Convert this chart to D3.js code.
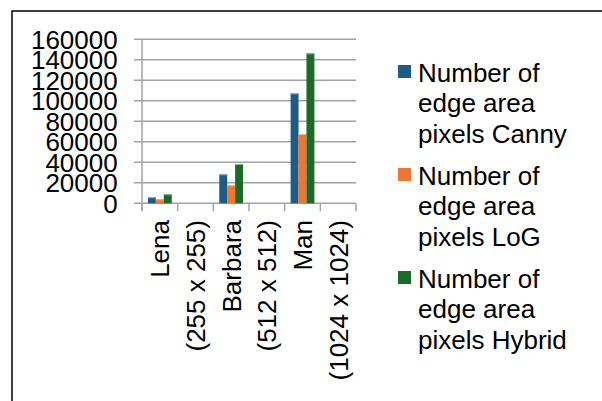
<!DOCTYPE html>
<html>
<head>
<meta charset="utf-8">
<script src="https://cdn.jsdelivr.net/npm/d3@7"></script>
<style>
  html, body { margin: 0; padding: 0; background: #fff; }
  svg { display: block; }
  text { font-family: "Liberation Sans", Arial, sans-serif; fill: #000; }
</style>
</head>
<body>
<svg id="chart" width="602" height="401"></svg>
<script>
// Category slots on the x axis (image name and its size occupy separate slots)
const categories = ["Lena", "(255 x 255)", "Barbara", "(512 x 512)", "Man", "(1024 x 1024)"];
const seriesNames = [
  "Number of edge area pixels Canny",
  "Number of edge area pixels LoG",
  "Number of edge area pixels Hybrid"
];
const seriesLines = [
  ["Number of", "edge area", "pixels Canny"],
  ["Number of", "edge area", "pixels LoG"],
  ["Number of", "edge area", "pixels Hybrid"]
];
// Edge-area pixel counts per slot (null where no value)
const cannyValues  = [5900, null, 28300, null, 107300, null];
const logValues    = [3900, null, 17600, null, 67600, null];
const hybridValues = [8800, null, 38300, null, 146300, null];
const yTicks = [0, 20000, 40000, 60000, 80000, 100000, 120000, 140000, 160000];
const colors = ["#1d5c86", "#ec7632", "#1d6a27"];
const topEdge = ["#8db3cf", "#f6b48a", "#86b58c"];

const seriesValues = [cannyValues, logValues, hybridValues];

const svg = d3.select("#chart");

// Outer chart border
svg.append("rect")
  .attr("x", 12).attr("y", 11)
  .attr("width", 640).attr("height", 440)
  .attr("fill", "none").attr("stroke", "#000").attr("stroke-width", 1.5);

const plot = { left: 142, right: 356, top: 39.3, bottom: 203.3 };

const y = d3.scaleLinear().domain([0, 160000]).range([plot.bottom, plot.top]);
const x0 = d3.scaleBand().domain(categories).range([plot.left, plot.right]).padding(0);
const barW = x0.bandwidth() / 4.5;
const x1 = d3.scaleBand().domain(d3.range(seriesNames.length))
  .range([0.75 * barW, 3.75 * barW]).padding(0);

const gridColor = "#a3a3a3";

// Horizontal gridlines with short outward ticks
svg.append("g").selectAll("line").data(yTicks).join("line")
  .attr("x1", plot.left - 8).attr("x2", plot.right)
  .attr("y1", d => y(d)).attr("y2", d => y(d))
  .attr("stroke", gridColor).attr("stroke-width", 1.5);

// Y axis
const yAxis = d3.axisLeft(y).tickValues(yTicks).tickSize(0).tickPadding(0)
  .tickFormat(d3.format("d"));
const gy = svg.append("g").attr("transform", `translate(${plot.left - 24.3},0)`).call(yAxis);
gy.select(".domain").remove();
gy.selectAll("text")
  .attr("font-size", 26)
  .attr("font-family", "Liberation Sans, Arial, sans-serif")
  .attr("fill", "#000")
  .attr("dy", "0.35em");

svg.append("line")
  .attr("x1", plot.left).attr("x2", plot.left)
  .attr("y1", plot.top).attr("y2", plot.bottom + 8)
  .attr("stroke", gridColor).attr("stroke-width", 1.5);

// X axis with category boundary ticks
const bounds = categories.map(c => x0(c)).concat([plot.right]);
svg.append("g").selectAll("line").data(bounds).join("line")
  .attr("x1", d => d).attr("x2", d => d)
  .attr("y1", plot.bottom).attr("y2", plot.bottom + 8)
  .attr("stroke", gridColor).attr("stroke-width", 1.5);

// Bars
const bars = svg.append("g");
seriesValues.forEach((vals, s) => {
  const data = categories.map((c, i) => ({ c, v: vals[i] })).filter(d => d.v != null);
  bars.selectAll(null).data(data).join("rect")
    .attr("x", d => x0(d.c) + x1(s))
    .attr("y", d => y(d.v))
    .attr("width", x1.bandwidth())
    .attr("height", d => plot.bottom - y(d.v))
    .attr("fill", colors[s]);
  bars.selectAll(null).data(data).join("line")
    .attr("x1", d => x0(d.c) + x1(s)).attr("x2", d => x0(d.c) + x1(s) + x1.bandwidth())
    .attr("y1", d => y(d.v) + 0.5).attr("y2", d => y(d.v) + 0.5)
    .attr("stroke", topEdge[s]).attr("stroke-width", 1);
});

// Rotated category labels
svg.append("g").selectAll("text").data(categories).join("text")
  .attr("transform", d => `translate(${x0(d) + x0.bandwidth() / 2},220) rotate(-90)`)
  .attr("text-anchor", "end")
  .attr("dy", "0.36em")
  .attr("font-size", 26)
  .text(d => d);

// Legend
const legend = svg.append("g");
seriesLines.forEach((lines, i) => {
  const g = legend.append("g").attr("transform", `translate(0,${103 * i})`);
  g.append("rect").attr("x", 398).attr("y", 65).attr("width", 13).attr("height", 13)
    .attr("fill", colors[i]);
  g.append("text").attr("font-size", 26)
    .selectAll("tspan").data(lines).join("tspan")
    .attr("x", 418).attr("y", (d, k) => 81.5 + 30.5 * k)
    .text(d => d);
});
</script>
</body>
</html>
